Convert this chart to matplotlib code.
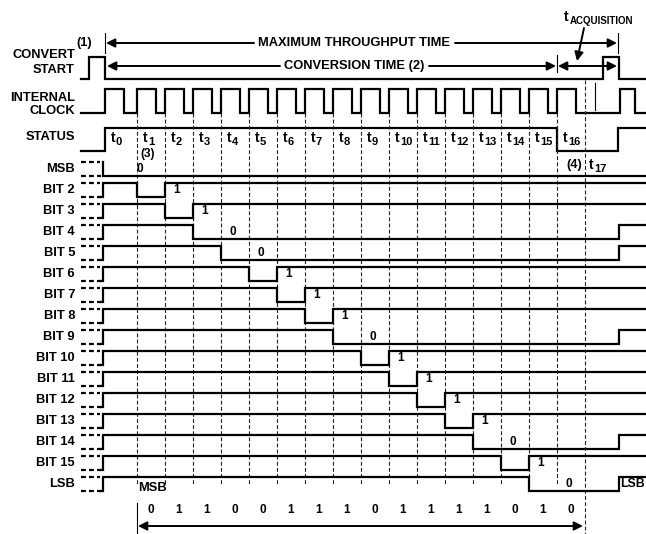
import matplotlib.pyplot as plt

# ---- data ----
row_labels = ['MSB', 'BIT 2', 'BIT 3', 'BIT 4', 'BIT 5', 'BIT 6', 'BIT 7', 'BIT 8',
              'BIT 9', 'BIT 10', 'BIT 11', 'BIT 12', 'BIT 13', 'BIT 14', 'BIT 15', 'LSB']
bits = [0, 1, 1, 0, 0, 1, 1, 1, 0, 1, 1, 1, 1, 0, 1, 0]
t_subs = [str(i) for i in range(18)]

# ---- layout (pixel space of the 646x534 picture) ----
W, H = 646, 534
x0 = 81            # left end of traces
x_go = 103         # bit rows become valid
e0 = 105           # convert start falls / first clock rise
e1 = 137
period = 28
edges = [e0] + [e1 + period * k for k in range(17)]   # e0 .. e17
x_cs2 = 603        # next convert start pulse
x_rst = 619        # end of cycle
clk_hi_len = 19
row_top, row_gap, row_amp = 162, 21, 14
lw = 1.6
FS = 9.3
plt.rcParams['font.family'] = ['Liberation Sans', 'DejaVu Sans']
plt.rcParams['font.weight'] = 'bold'

fig = plt.figure(figsize=(W / 100, H / 100), dpi=100)
ax = fig.add_axes([0, 0, 1, 1])
ax.set_xlim(0, W)
ax.set_ylim(H, 0)
ax.axis('off')


def trace(xs, ys):
    # xs: transition points, ys: level of each segment
    px, py = [], []
    for i, y in enumerate(ys):
        px += [xs[i], xs[i + 1]]
        py += [y, y]
    ax.plot(px, py, color='k', lw=lw, solid_joinstyle='miter')


def label(x, y, s, size=FS, ha='right'):
    ax.text(x, y, s, ha=ha, va='center', fontsize=size, fontweight='bold')


def tlabel(x, y, sub, size=10, subsize=8):
    ax.text(x, y, 't', ha='center', va='center', fontsize=size, fontweight='bold')
    ax.text(x + 3, y + 4, sub, ha='left', va='center', fontsize=subsize, fontweight='bold')


# ---- convert start ----
cs_hi, cs_lo = 57, 79
trace([x0, 89, e0, x_cs2, x_rst, W], [cs_lo, cs_hi, cs_lo, cs_hi, cs_lo])
label(75, 55, 'CONVERT')
label(75, 70, 'START')
label(84, 43, '(1)', ha='center')

# ---- internal clock ----
ck_hi, ck_lo = 89, 113
xs, ys = [x0], []
for e in edges[:17]:
    xs += [e, e + clk_hi_len]
    ys += [ck_lo, ck_hi]
xs += [620, 635, W]
ys += [ck_lo, ck_hi, ck_lo]
trace(xs, ys)
ax.plot([595, 595], [83, 110], color='k', lw=0.8)
label(75, 98, 'INTERNAL')
label(75, 111, 'CLOCK')

# ---- status ----
st_hi, st_lo = 128, 151
trace([x0, e0, edges[16], 618, W], [st_lo, st_hi, st_lo, st_hi])
label(75, 137, 'STATUS')
for k in range(17):
    tlabel(edges[k] + 8, 138, t_subs[k])
tlabel(edges[17] + 6, 165, t_subs[17])
label(574, 165, '(4)', ha='center')
label(148, 154, '(3)', ha='center', size=8.5)

# ---- dashed clock-edge guides ----
for k in range(1, 17):
    ax.plot([edges[k]] * 2, [ck_lo, 484], color='#222', lw=0.8, dashes=(3.5, 2))
ax.plot([edges[17]] * 2, [cs_lo + 1, H], color='#222', lw=0.8, dashes=(3.5, 2))

# ---- bit rows ----
for i, (name, b) in enumerate(zip(row_labels, bits)):
    hi = row_top + row_gap * i
    lo = hi + row_amp
    ax.plot([x0, 100], [hi, hi], color='k', lw=lw, dashes=(2.2, 1.4))
    ax.plot([x0, 101], [lo, lo], color='k', lw=lw, dashes=(2.2, 1.4))
    if i == 0:
        px = [x_go, x_go, W]
        py = [hi, lo, lo]
        if b:
            px = [x_go, x_go, edges[1], edges[1], W]
            py = [hi, lo, lo, hi, hi]
    else:
        fall = edges[i]
        rise = edges[i + 1] if b else x_rst
        px = [x_go - 2, x_go, x_go, fall, fall, rise, rise, W]
        py = [lo, lo, hi, hi, lo, lo, hi, hi]
    ax.plot(px, py, color='k', lw=lw, solid_joinstyle='miter')
    label(75, (hi + lo) / 2, name)
    vx = edges[1] + 3 if i == 0 else edges[i + 1] + 12
    ax.text(vx, (hi + lo) / 2, str(b), ha='center', va='center', fontsize=8.5, fontweight='bold')

lsb_hi = row_top + row_gap * 15
label(620, lsb_hi + 7, 'LSB', ha='left', size=8.8)

# ---- top arrows ----
arr = dict(arrowstyle='-|>', lw=1.4, color='k', mutation_scale=13, shrinkA=0, shrinkB=0)
dbl = dict(arrowstyle='<|-|>', lw=1.4, color='k', mutation_scale=13, shrinkA=0, shrinkB=0)
ax.plot([e0, e0], [33, 53], color='k', lw=0.8)
ax.plot([618, 618], [33, 53], color='k', lw=0.8)
ax.annotate('', xy=(e0 + 1, 43), xytext=(254, 43), arrowprops=arr)
ax.annotate('', xy=(617, 43), xytext=(455, 43), arrowprops=arr)
label(354, 43, 'MAXIMUM THROUGHPUT TIME', ha='center')

ax.plot([edges[16]] * 2, [55, 72], color='k', lw=0.8)
ax.annotate('', xy=(e0 + 2, 66), xytext=(280, 66), arrowprops=arr)
ax.annotate('', xy=(edges[16] - 1, 66), xytext=(429, 66), arrowprops=arr)
label(354, 66, 'CONVERSION TIME (2)', ha='center')
ax.annotate('', xy=(617, 66), xytext=(edges[16] + 1, 66), arrowprops=dbl)

ax.text(566, 17, 't', ha='center', va='center', fontsize=10, fontweight='bold')
ax.text(570, 21, 'ACQUISITION', ha='left', va='center', fontsize=7, fontweight='bold')
ax.annotate('', xy=(577, 61), xytext=(584, 28), arrowprops=arr)

# ---- bottom readout ----
label(e1 + 1, 488, 'MSB', ha='left')
ax.plot([e1, e1], [503, H], color='k', lw=0.8)
for k, b in enumerate(bits):
    ax.text(edges[k + 1] + 14, 510, str(b), ha='center', va='center', fontsize=8.5, fontweight='bold')
ax.annotate('', xy=(e1 + 1, 526), xytext=(edges[17] - 2, 526), arrowprops=dbl)

fig.savefig('out.png', dpi=100)
